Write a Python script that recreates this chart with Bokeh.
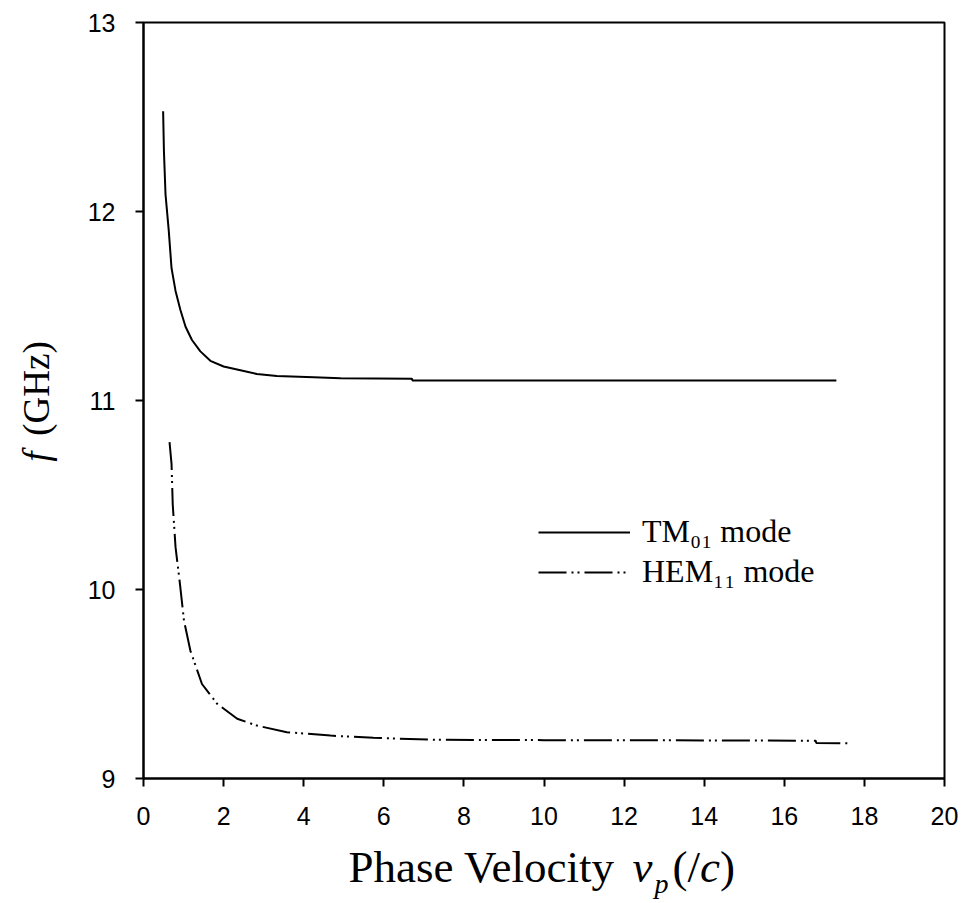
import math
from bokeh.plotting import figure
from bokeh.models import Range1d, FixedTicker, Label, Legend, LegendItem
from bokeh.layouts import row, column
from bokeh.embed import file_html
from bokeh.resources import INLINE

# ---- data ----
x_ticks = [0, 2, 4, 6, 8, 10, 12, 14, 16, 18, 20]
y_ticks = [9, 10, 11, 12, 13]

vp_tm01 = [0.49, 0.51, 0.55, 0.63, 0.70, 0.80, 0.92, 1.05, 1.21, 1.42, 1.67,
           2.00, 2.42, 2.83, 3.33, 4.25, 4.92, 6.70, 6.72, 10.0, 14.0, 17.3]
f_tm01 = [12.53, 12.32, 12.09, 11.90, 11.70, 11.58, 11.48, 11.39, 11.32, 11.26, 11.21,
          11.18, 11.16, 11.14, 11.13, 11.123, 11.118, 11.115, 11.106, 11.106, 11.106, 11.106]

vp_hem11 = [0.65, 0.70, 0.73, 0.80, 0.91, 1.01, 1.17, 1.46, 1.84, 2.34, 2.83,
            3.58, 4.67, 5.74, 7.33, 10.0, 13.0, 16.78, 16.80, 17.6]
f_hem11 = [10.78, 10.665, 10.45, 10.224, 10.03, 9.836, 9.677, 9.50, 9.395, 9.316, 9.28,
           9.245, 9.227, 9.215, 9.205, 9.203, 9.202, 9.20, 9.188, 9.186]

series_labels = ["TM\u2080\u2081 mode", "HEM\u2081\u2081 mode"]

SERIF = "Liberation Serif"

# ---- main chart ----
MAIN_W, MAIN_H = 898, 838
BT, BB = 22, 60
p = figure(width=MAIN_W, height=MAIN_H, output_backend="svg", toolbar_location=None,
           x_range=Range1d(0, 20), y_range=Range1d(9, 13),
           min_border_left=83, min_border_right=14, min_border_top=BT,
           min_border_bottom=BB, margin=0)
p.grid.visible = False
p.outline_line_color = "black"
p.outline_line_width = 2
p.background_fill_color = "white"
p.border_fill_color = "white"

for ax in (p.xaxis[0], p.yaxis[0]):
    ax.axis_line_width = 2
    ax.axis_line_color = "black"
    ax.major_tick_line_width = 2
    ax.major_tick_line_color = "black"
    ax.major_tick_out = 8
    ax.major_tick_in = 0
    ax.minor_tick_out = 0
    ax.minor_tick_in = 0
    ax.major_label_text_font = "Liberation Sans"
    ax.major_label_text_font_size = "25px"
    ax.major_label_text_color = "black"

p.xaxis[0].ticker = FixedTicker(ticks=x_ticks)
p.yaxis[0].ticker = FixedTicker(ticks=y_ticks)
p.xaxis[0].major_label_standoff = 20
p.yaxis[0].major_label_standoff = 20

r1 = p.line(vp_tm01, f_tm01, line_color="black", line_width=2)
r2 = p.line(vp_hem11, f_hem11, line_color="black", line_width=2,
            line_dash="28 5 2 4 2 5")

legend = Legend(items=[LegendItem(label=series_labels[0], renderers=[r1]),
                       LegendItem(label=series_labels[1], renderers=[r2])],
                location=(395, 188), padding=0, margin=0, spacing=3,
                glyph_width=92, glyph_height=20, label_standoff=12,
                label_text_font=SERIF, label_text_font_size="32px",
                label_text_color="black",
                border_line_alpha=0, background_fill_alpha=0)
p.add_layout(legend)


def text_panel(w, h, xr, yr, top=0, bottom=0):
    f = figure(width=w, height=h, output_backend="svg", toolbar_location=None,
               x_range=xr, y_range=yr,
               x_axis_type=None, y_axis_type=None, title=None,
               min_border=0, min_border_left=0, min_border_right=0,
               min_border_top=top, min_border_bottom=bottom, margin=0)
    f.outline_line_color = None
    f.background_fill_color = "white"
    f.border_fill_color = "white"
    return f


def lab(fig, text, x, y, size, style="normal", angle=0,
        align="left", baseline="alphabetic"):
    fig.add_layout(Label(x=x, y=y, text=text, text_font=SERIF,
                         text_font_size=size, text_font_style=style,
                         text_color="black", text_align=align,
                         text_baseline=baseline, angle=angle))

# ---- y-axis title panel (left); data y == page y ----
YW = 60
py_panel = text_panel(YW, MAIN_H, Range1d(0, YW), Range1d(MAIN_H - BB, BT),
                      top=BT, bottom=BB)
lab(py_panel, "f", 36, 456, "37px", "italic", angle=math.pi / 2,
    align="center", baseline="middle")
lab(py_panel, "(GHz)", 36, 388, "37px", angle=math.pi / 2,
    align="center", baseline="middle")

# ---- x-axis title panel (bottom); data x,y == page x,y ----
XH = 62
px_panel = text_panel(YW + MAIN_W, XH, Range1d(0, YW + MAIN_W),
                      Range1d(MAIN_H + XH, MAIN_H))

def lx(text, x, baseline_y, size_px, style="normal"):
    # compensate the alphabetic-baseline offset seen in rendering
    lab(px_panel, text, x, baseline_y - size_px / 3.0, f"{size_px}px", style)

lx("Phase Velocity", 348, 881, 45)
lx("v", 632, 881, 45, "italic")
lx("p", 654, 892, 28, "italic")
lx("(/", 672, 881, 45)
lx("c", 699.5, 881, 45, "italic")
lx(")", 719.5, 881, 45)

layout = column(row(py_panel, p, spacing=0), px_panel, spacing=0)

open("out.html", "w").write(file_html(layout, INLINE))
